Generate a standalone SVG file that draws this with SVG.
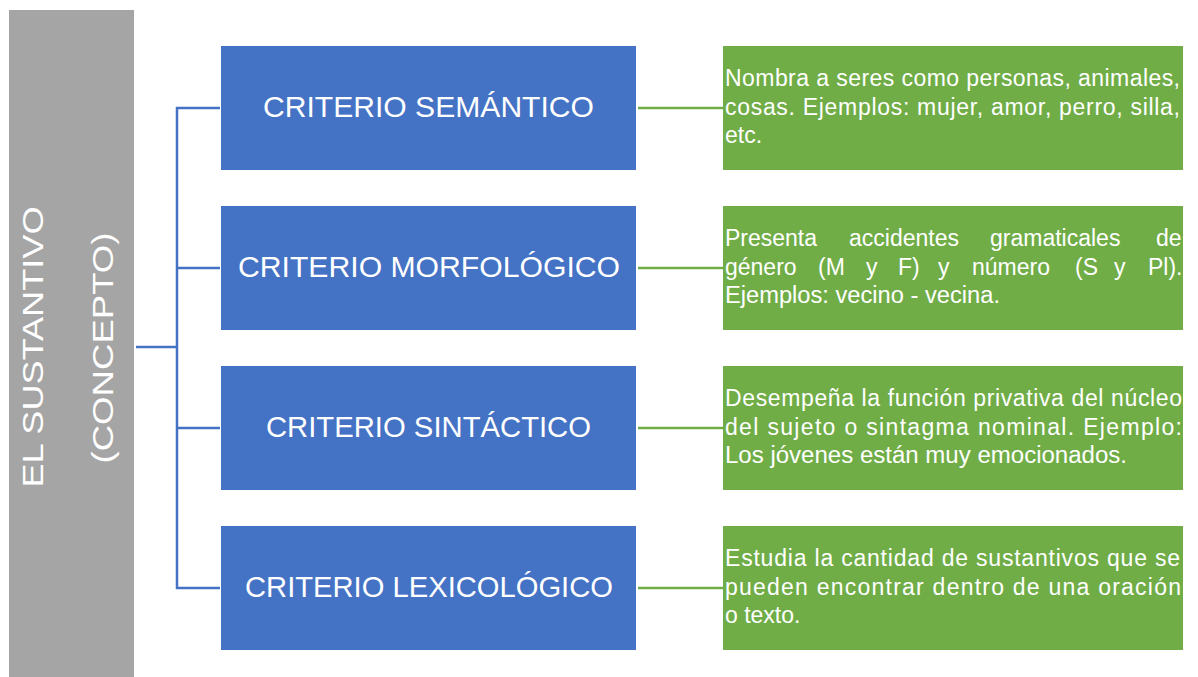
<svg xmlns="http://www.w3.org/2000/svg" width="1198" height="677" viewBox="0 0 1198 677">
<style>
.gray{fill:#a5a5a5}
.blue{fill:#4472c4}
.green{fill:#70ad47}
.t{font-family:"Liberation Sans",Arial,sans-serif;fill:#ffffff}
.big{font-size:29px;text-anchor:middle}
.side{font-size:30px;text-anchor:middle}
.desc{font-size:23px}
.cb{stroke:#4472c4;stroke-width:2.5;fill:none}
.cg{stroke:#70ad47;stroke-width:2.5;fill:none}
</style>
<rect width="1198" height="677" fill="#ffffff"/>
<g id="root">
<rect class="gray" x="9" y="10" width="125" height="670"/>
<text class="t side" transform="translate(43,347) rotate(-90)" textLength="281" lengthAdjust="spacingAndGlyphs">EL SUSTANTIVO</text>
<text class="t side" transform="translate(113,348) rotate(-90)" textLength="231" lengthAdjust="spacingAndGlyphs">(CONCEPTO)</text>
</g>
<g id="connectors">
<path class="cb" d="M136 347 H177 M177 107 V589 M176 108 H220 M176 268 H220 M176 428 H220 M176 588 H220"/>
<path class="cg" d="M638 108 H723 M638 268 H723 M638 428 H723 M638 588 H723"/>
</g>
<g id="n1">
<rect class="blue" x="221" y="46" width="415" height="124"/>
<text class="t big" x="428.5" y="117" textLength="331" lengthAdjust="spacingAndGlyphs">CRITERIO SEMÁNTICO</text>
</g>
<g id="n2">
<rect class="blue" x="221" y="206" width="415" height="124"/>
<text class="t big" x="429" y="277" textLength="382" lengthAdjust="spacingAndGlyphs">CRITERIO MORFOLÓGICO</text>
</g>
<g id="n3">
<rect class="blue" x="221" y="366" width="415" height="124"/>
<text class="t big" x="428.5" y="437" textLength="325" lengthAdjust="spacingAndGlyphs">CRITERIO SINTÁCTICO</text>
</g>
<g id="n4">
<rect class="blue" x="221" y="526" width="415" height="124"/>
<text class="t big" x="429" y="597" textLength="368" lengthAdjust="spacingAndGlyphs">CRITERIO LEXICOLÓGICO</text>
</g>
<g id="d1">
<rect class="green" x="723" y="46" width="460" height="124"/>
<text class="t desc" x="725" y="86" textLength="455" lengthAdjust="spacing">Nombra a seres como personas, animales,</text>
<text class="t desc" x="725" y="114.5" textLength="455" lengthAdjust="spacing">cosas. Ejemplos: mujer, amor, perro, silla,</text>
<text class="t desc" x="725" y="143">etc.</text>
</g>
<g id="d2">
<rect class="green" x="723" y="206" width="460" height="124"/>
<text class="t desc" y="246"><tspan x="725">Presenta</tspan><tspan x="849">accidentes</tspan><tspan x="990">gramaticales</tspan><tspan x="1156">de</tspan></text>
<text class="t desc" y="274.5"><tspan x="725">género</tspan><tspan x="818">(M</tspan><tspan x="866">y</tspan><tspan x="898">F)</tspan><tspan x="938">y</tspan><tspan x="972">número</tspan><tspan x="1075">(S</tspan><tspan x="1114">y</tspan><tspan x="1148">Pl).</tspan></text>
<text class="t desc" x="725" y="303" textLength="275" lengthAdjust="spacingAndGlyphs">Ejemplos: vecino - vecina.</text>
</g>
<g id="d3">
<rect class="green" x="723" y="366" width="460" height="124"/>
<text class="t desc" x="725" y="406" textLength="457" lengthAdjust="spacing">Desempeña la función privativa del núcleo</text>
<text class="t desc" x="725" y="434.5" textLength="457" lengthAdjust="spacing">del sujeto o sintagma nominal. Ejemplo:</text>
<text class="t desc" x="725" y="463" textLength="402" lengthAdjust="spacingAndGlyphs">Los jóvenes están muy emocionados.</text>
</g>
<g id="d4">
<rect class="green" x="723" y="526" width="460" height="124"/>
<text class="t desc" x="725" y="566" textLength="455" lengthAdjust="spacing">Estudia la cantidad de sustantivos que se</text>
<text class="t desc" x="725" y="594.5" textLength="456" lengthAdjust="spacing">pueden encontrar dentro de una oración</text>
<text class="t desc" x="725" y="623">o texto.</text>
</g>
</svg>
